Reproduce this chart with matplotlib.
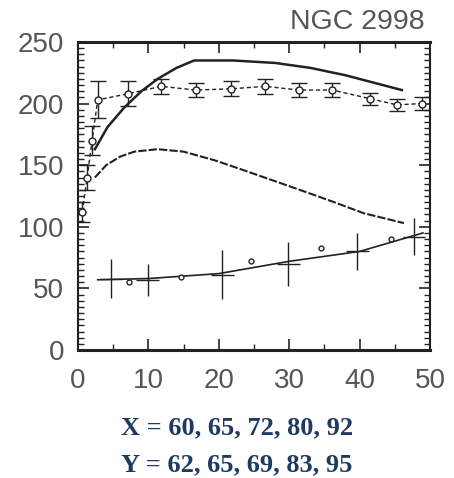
import matplotlib
matplotlib.use("Agg")
import matplotlib.pyplot as plt
from matplotlib.ticker import MultipleLocator

# Observed rotation curve (circles with error bars)
obs_r = [0.6, 1.3, 2.0, 2.8, 7.1, 11.8, 16.7, 21.7, 26.6, 31.4, 36.1, 41.5, 45.3, 48.8]
obs_v = [112, 140, 170, 203, 208, 214, 211, 212, 214, 211, 211, 204, 199, 200]
obs_e = [8, 10, 12, 15, 10, 6, 6, 6, 6, 6, 6, 5, 5, 5]

# Total model curve
tot_r = [2.4, 4.2, 6.6, 9.0, 11.3, 14.0, 16.5, 22.0, 28.0, 33.0, 38.0, 42.0, 46.0]
tot_v = [163, 181, 197, 210, 220, 229, 235, 235, 233, 229, 223, 217, 211]

# Disk curve
disk_r = [2.4, 4.0, 6.0, 8.0, 11.3, 15.0, 19.4, 23.0, 26.5, 31.0, 35.9, 40.6, 46.3]
disk_v = [140, 150, 157, 161, 163, 161, 154, 147, 140, 131, 121, 111, 103]

# Halo curve
halo_r = [2.8, 10, 20, 30, 40, 49]
halo_v = [57, 58, 62, 72, 80, 95]

# Halo points with error crosses
hp_r = [4.7, 9.9, 20.5, 29.9, 39.7, 47.7]
hp_v = [58, 57, 61, 70, 80, 92]
hp_e = [16, 13, 20, 18, 15, 15]

# Small dots
dot_r = [7.3, 14.6, 24.6, 34.5, 44.4]
dot_v = [55, 59, 72, 83, 90]

x_ticks = [0, 10, 20, 30, 40, 50]
y_ticks = [0, 50, 100, 150, 200, 250]
title = "NGC 2998"
note_x = "X = 60, 65, 72, 80, 92"
note_y = "Y = 62, 65, 69, 83, 95"

ink = "#222222"
gray = "#555555"

fig = plt.figure(figsize=(4.54, 4.78), dpi=100)
ax = fig.add_axes([78/454, 1 - 350/478, (430 - 78)/454, (350 - 42)/478])

ax.plot(tot_r, tot_v, color=ink, lw=1.8)
ax.errorbar(obs_r, obs_v, yerr=obs_e, fmt='o', mfc='white', mec=ink, ms=5,
            color=ink, ecolor=ink, elinewidth=1, capsize=6, ls=(0, (3, 2)), lw=1)
ax.plot(disk_r, disk_v, color=ink, lw=1.5, ls=(0, (4, 1)))
ax.plot(halo_r, halo_v, color=ink, lw=1.2)
ax.errorbar(hp_r, hp_v, yerr=hp_e, xerr=1.6, fmt='none', ecolor=ink,
            elinewidth=1, capsize=0)
ax.plot(dot_r, dot_v, 'o', mfc='white', mec=ink, ms=3.5, mew=1)

ax.set_xlim(0, 50)
ax.set_ylim(0, 250)
ax.set_xticks(x_ticks)
ax.set_yticks(y_ticks)
ax.xaxis.set_minor_locator(MultipleLocator(5))
ax.yaxis.set_minor_locator(MultipleLocator(5))
ax.tick_params(which='both', direction='in', top=True, right=True, color=ink,
               labelsize=20, labelcolor=gray)
ax.tick_params(which='major', length=8, width=1.2)
ax.tick_params(which='minor', length=4, width=1)
ax.tick_params(axis='x', pad=13)
ax.tick_params(axis='y', pad=10)
for lab in ax.get_xticklabels() + ax.get_yticklabels():
    lab.set_family('Liberation Sans')
for s in ax.spines.values():
    s.set_color(ink)
    s.set_linewidth(1.5)
ax.spines['top'].set_linewidth(2.2)
ax.spines['bottom'].set_linewidth(2.2)

fig.text(425/454, 1 - 22/478, title, ha='right', va='center', fontsize=20.5,
         color=gray, family='Liberation Sans')
fig.text(237/454, 1 - 428/478, note_x, ha='center', va='center', fontsize=19,
         color='#1f3a60', fontweight='bold', family='Liberation Serif')
fig.text(237/454, 1 - 465/478, note_y, ha='center', va='center', fontsize=19,
         color='#1f3a60', fontweight='bold', family='Liberation Serif')

fig.savefig("out.png", dpi=100, facecolor='white')
